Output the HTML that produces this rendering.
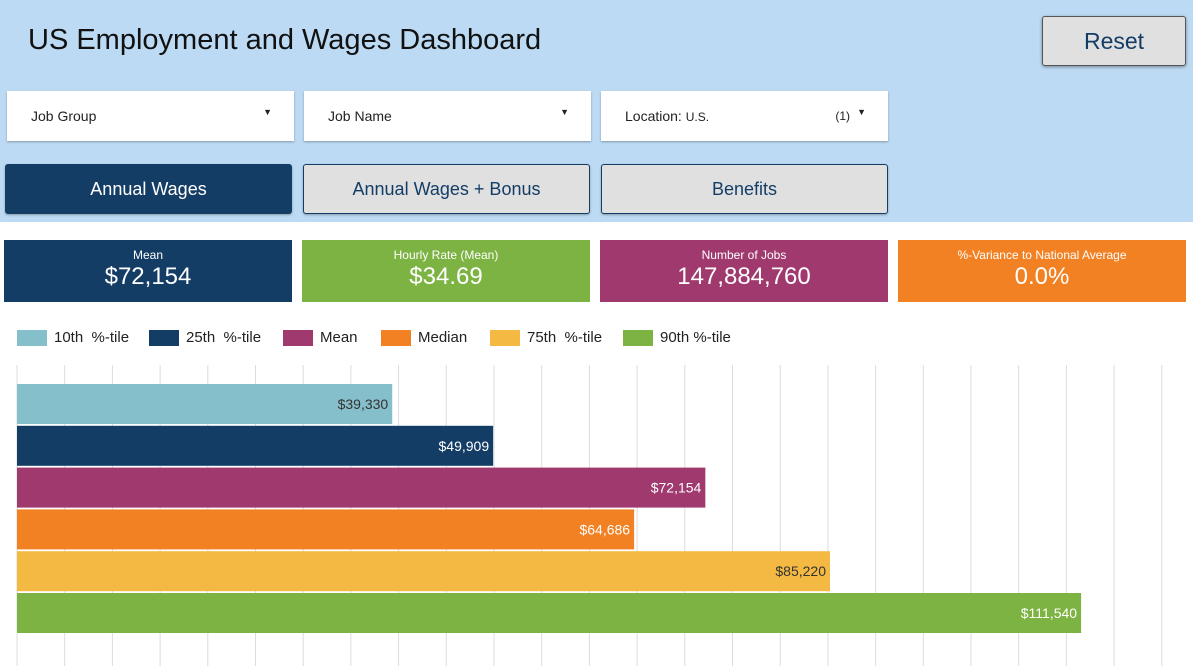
<!DOCTYPE html>
<html><head><meta charset="utf-8"><style>
*{box-sizing:border-box;margin:0;padding:0}
body{width:1193px;height:666px;overflow:hidden;background:#fff;font-family:"Liberation Sans",sans-serif;position:relative}
.hdr{position:absolute;left:0;top:0;width:1193px;height:222px;background:#bcdaf3}
.abs{position:absolute}
.dd{position:absolute;top:91px;height:50px;background:#fff;box-shadow:0 1px 2px rgba(0,0,0,.3);font-size:14px;color:#222;padding:17px 24px}
.dd .ar{position:absolute;right:22px;top:16px;font-size:9px}
.tab{position:absolute;top:164px;height:50px;border:1px solid #143d66;border-radius:3px;font-size:18px;text-align:center;line-height:48px;background:#e0e0e0;color:#143d66;box-shadow:0 1px 2px rgba(0,0,0,.3)}
.kpi{position:absolute;top:240px;height:62px;color:#fff;text-align:center}
.kpi .l{font-size:12px;margin-top:8px}
.kpi .v{font-size:24px;margin-top:1px}
.leg{position:absolute;top:329px;font-size:15px;color:#222;display:flex;align-items:center}
.leg i{display:inline-block;width:30px;height:16px;margin-right:7px}
</style></head><body>
<div class="hdr"></div>
<div class="abs" style="left:28px;top:24px;font-size:29px;color:#111">US Employment and Wages Dashboard</div>
<div class="abs" style="left:1042px;top:16px;width:144px;height:50px;background:#e0e0e0;border:1px solid #555;border-radius:3px;box-shadow:0 1px 3px rgba(0,0,0,.4);font-size:23px;color:#143d66;text-align:center;line-height:48px">Reset</div>
<div class="dd" style="left:7px;width:287px">Job Group<span class="ar">▼</span></div>
<div class="dd" style="left:304px;width:287px">Job Name<span class="ar">▼</span></div>
<div class="dd" style="left:601px;width:287px">Location: <span style="font-size:12px">U.S.</span><span style="position:absolute;right:38px;top:18px;font-size:12px">(1)</span><span class="ar">▼</span></div>
<div class="tab" style="left:5px;width:287px;background:#143d66;color:#fff">Annual Wages</div>
<div class="tab" style="left:303px;width:287px">Annual Wages + Bonus</div>
<div class="tab" style="left:601px;width:287px">Benefits</div>
<div class="kpi" style="left:4px;width:288px;background:#143d66"><div class="l">Mean</div><div class="v">$72,154</div></div>
<div class="kpi" style="left:302px;width:288px;background:#7db342"><div class="l">Hourly Rate (Mean)</div><div class="v">$34.69</div></div>
<div class="kpi" style="left:600px;width:288px;background:#a0396e"><div class="l">Number of Jobs</div><div class="v">147,884,760</div></div>
<div class="kpi" style="left:898px;width:288px;background:#f28123"><div class="l">%-Variance to National Average</div><div class="v">0.0%</div></div>
<div id="legend"></div>
<svg id="chart" class="abs" style="left:0;top:355px" width="1193" height="311"></svg>
<script>
const categories=["10th  %-tile","25th  %-tile","Mean","Median","75th  %-tile","90th %-tile"];
const values=[39330,49909,72154,64686,85220,111540];
const labels=["$39,330","$49,909","$72,154","$64,686","$85,220","$111,540"];
const colors=["#86bfcc","#143d66","#a0396e","#f28123","#f4b942","#7db342"];
const textColors=["#333","#fff","#fff","#fff","#333","#fff"];
const legX=[17,149,283,381,490,623];
const NS="http://www.w3.org/2000/svg";
const svg=document.getElementById('chart');
const x0=17, pxPer=47.7/5000;
const xs=v=>x0+v*pxPer;
const ys=i=>29+i*41.8;
for(let g=0;g<=120000;g+=5000){
  const l=document.createElementNS(NS,'line');
  l.setAttribute('x1',xs(g));l.setAttribute('x2',xs(g));l.setAttribute('y1',10);l.setAttribute('y2',311);
  l.setAttribute('stroke','#dcdcdc');l.setAttribute('stroke-width','1');
  
  
  svg.appendChild(l);
}
values.forEach((v,i)=>{
  const r=document.createElementNS(NS,'rect');
  r.setAttribute('x',x0);r.setAttribute('y',ys(i));r.setAttribute('width',xs(v)-x0);r.setAttribute('height',40);r.setAttribute('fill',colors[i]);
  
  
  svg.appendChild(r);
  const t=document.createElementNS(NS,'text');
  t.setAttribute('x',xs(v)-4);t.setAttribute('y',ys(i)+25);t.setAttribute('text-anchor','end');
  t.setAttribute('font-size','14');t.setAttribute('fill',textColors[i]);t.setAttribute('font-family','Liberation Sans, sans-serif');
  t.textContent=labels[i];
  
  
  svg.appendChild(t);
});
const leg=document.getElementById('legend');
categories.forEach((c,i)=>{
  const d=document.createElement('div');
  d.className='leg';d.style.left=legX[i]+'px';
  d.innerHTML='<i style="background:'+colors[i]+'"></i>'+c.replace(/ /g,'&nbsp;');
  
  
  leg.appendChild(d);
});
</script>
</body></html>
